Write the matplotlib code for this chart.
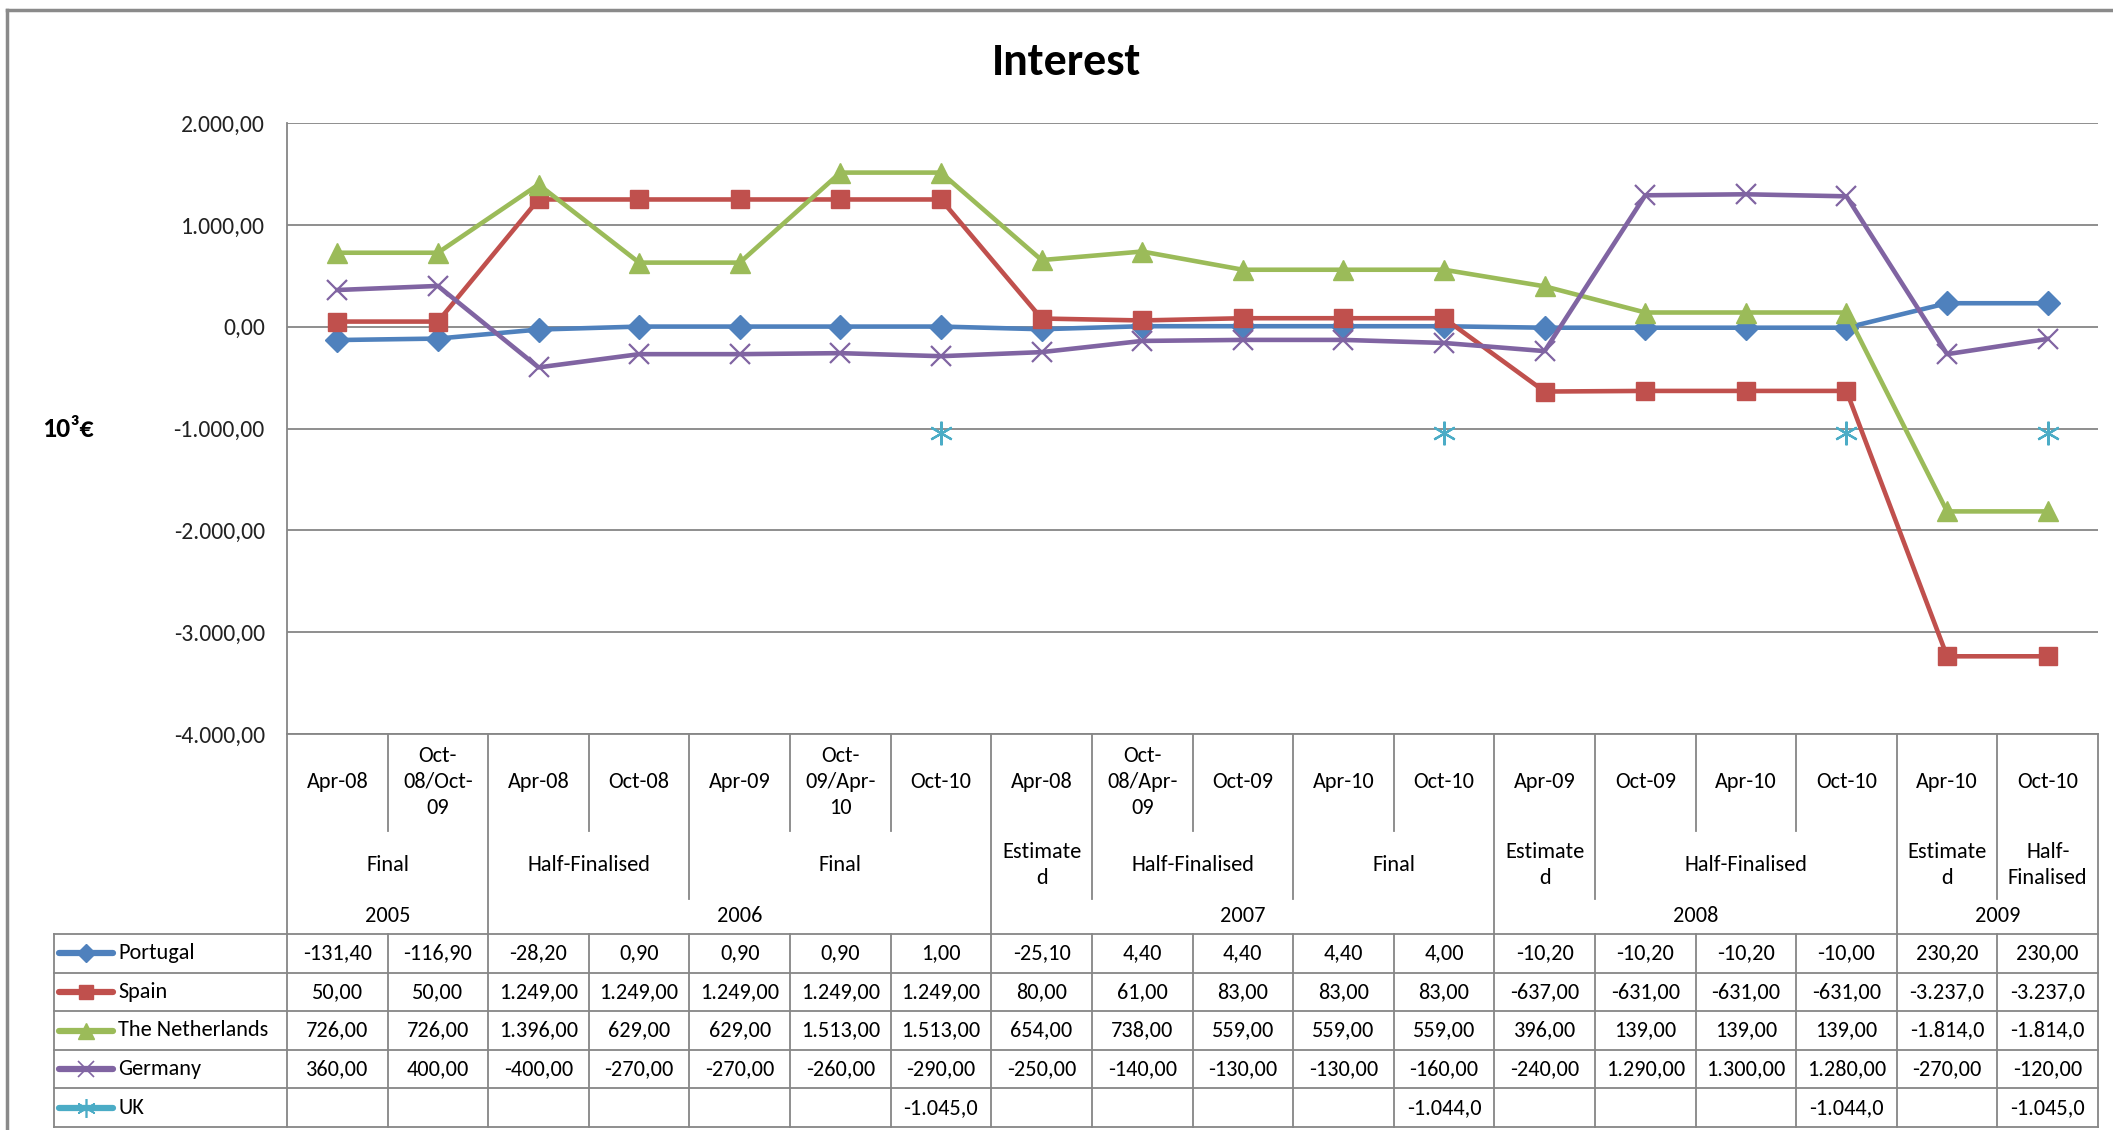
import numpy as np
import matplotlib
matplotlib.use("Agg")
import matplotlib.pyplot as plt
from matplotlib import font_manager
from matplotlib.lines import Line2D

# pick a Calibri-like font if one is there
names = {f.name for f in font_manager.fontManager.ttflist}
for fam in ["Carlito", "Liberation Sans Narrow", "Liberation Sans"]:
    if fam in names:
        break
plt.rcParams['font.family'] = [fam, 'DejaVu Sans']

# data
months = ["Apr-08", "Oct-\n08/Oct-\n09", "Apr-08", "Oct-08", "Apr-09", "Oct-\n09/Apr-\n10",
          "Oct-10", "Apr-08", "Oct-\n08/Apr-\n09", "Oct-09", "Apr-10", "Oct-10",
          "Apr-09", "Oct-09", "Apr-10", "Oct-10", "Apr-10", "Oct-10"]
status = ["Final", "Half-Finalised", "Final", "Estimate\nd", "Half-Finalised", "Final",
          "Estimate\nd", "Half-Finalised", "Estimate\nd", "Half-\nFinalised"]
status_span = [2, 2, 3, 1, 2, 2, 1, 3, 1, 1]
years = ["2005", "2006", "2007", "2008", "2009"]
year_span = [2, 5, 5, 4, 2]

countries = ["Portugal", "Spain", "The Netherlands", "Germany", "UK"]
portugal = [-131.4, -116.9, -28.2, 0.9, 0.9, 0.9, 1.0, -25.1, 4.4, 4.4, 4.4, 4.0,
            -10.2, -10.2, -10.2, -10.0, 230.2, 230.0]
spain = [50, 50, 1249, 1249, 1249, 1249, 1249, 80, 61, 83, 83, 83,
         -637, -631, -631, -631, -3237, -3237]
netherlands = [726, 726, 1396, 629, 629, 1513, 1513, 654, 738, 559, 559, 559,
               396, 139, 139, 139, -1814, -1814]
germany = [360, 400, -400, -270, -270, -260, -290, -250, -140, -130, -130, -160,
           -240, 1290, 1300, 1280, -270, -120]
nan = np.nan
uk = [nan, nan, nan, nan, nan, nan, -1045, nan, nan, nan, nan, -1044,
      nan, nan, nan, -1044, nan, -1045]
series = [portugal, spain, netherlands, germany, uk]

colors = ["#4F81BD", "#C0504D", "#9BBB59", "#8064A2", "#4BACC6"]
markers = ["D", "s", "^", "x", (6, 2, 0)]
msizes = [12, 13, 15, 14, 17]

W, H = 2113, 1130
fig = plt.figure(figsize=(W / 100, H / 100), dpi=100)


def box(x0, y0, x1, y1):
    # pixel box (top-left origin) -> figure fraction
    return [x0 / W, 1 - y1 / H, (x1 - x0) / W, (y1 - y0) / H]


grey = "#868686"
x0, x1 = 287, 2098
ax = fig.add_axes(box(x0, 123, x1, 734))
n = len(months)
xs = np.arange(n)

for vals, c, m, ms, lab in zip(series, colors, markers, msizes, countries):
    lw = 3.3 if lab != "UK" else 0
    mew = 1.6 if m in ("x",) or isinstance(m, tuple) else 1
    ax.plot(xs, vals, color=c, lw=lw, marker=m, markersize=ms,
            markeredgewidth=mew, markeredgecolor=c, label=lab, zorder=3)

ax.set_xlim(-0.5, n - 0.5)
ax.set_ylim(-4000, 2000)
ax.set_yticks(np.arange(-4000, 2001, 1000))


def euro(v):
    s = f"{v:,.2f}"
    return s.replace(",", "X").replace(".", ",").replace("X", ".")


ax.set_yticklabels([euro(v) for v in np.arange(-4000, 2001, 1000)])
ax.tick_params(axis='y', length=0, pad=16, labelsize=17, colors="#222222")
ax.set_xticks([])
ax.grid(axis='y', color=grey, lw=1.3)
for s in ["top", "right", "bottom"]:
    ax.spines[s].set_visible(False)
ax.spines["left"].set_color(grey)
ax.spines["left"].set_linewidth(1.3)

fig.text(68 / W, 1 - 429 / H, "10³€", ha="center", va="center",
         fontsize=20, fontweight="bold")
fig.text(1067 / W, 1 - 62 / H, "Interest", ha="center", va="center",
         fontsize=33, fontweight="bold")

# header + data table underneath
tab = fig.add_axes(box(x0, 734, x1, 1127))
tab.set_xlim(-0.5, n - 0.5)
tab.set_ylim(393, 0)
tab.axis("off")
left = -0.5 - (x0 - 54) / ((x1 - x0) / n)
lk = dict(color=grey, lw=1.3, clip_on=False)

row_month, row_status, row_year = 97, 165, 200
rh = (393 - row_year) / 5

tab.plot([-0.5, n - 0.5], [0, 0], **lk)
for i, lab in enumerate(months):
    tab.text(i, 48, lab, ha="center", va="center", fontsize=16, linespacing=1.35)

# separators: month-level, status-level and year-level
stat_edges = np.cumsum(status_span)
year_edges = np.cumsum(year_span)
for e in range(1, n):
    if e in year_edges:
        bottom = row_year
    elif e in stat_edges:
        bottom = row_status
    else:
        bottom = row_month
    tab.plot([e - 0.5, e - 0.5], [0, bottom], **lk)

start = 0
for lab, sp in zip(status, status_span):
    tab.text(start + (sp - 1) / 2, 131, lab, ha="center", va="center",
             fontsize=16, linespacing=1.35)
    start += sp
start = 0
for lab, sp in zip(years, year_span):
    tab.text(start + (sp - 1) / 2, 182, lab, ha="center", va="center", fontsize=16)
    start += sp

# outer lines of header and table
tab.plot([-0.5, -0.5], [0, 393], **lk)
tab.plot([n - 0.5, n - 0.5], [0, 393], **lk)
tab.plot([left, left], [row_year, 393], **lk)
for k in range(6):
    y = row_year + k * rh
    tab.plot([left, n - 0.5], [y, y], **lk)
for e in range(1, n):
    tab.plot([e - 0.5, e - 0.5], [row_year, 393], **lk)

unit = (x1 - x0) / n
for k, (vals, c, m, ms, lab) in enumerate(zip(series, colors, markers, msizes, countries)):
    yc = row_year + (k + 0.5) * rh
    xa = left + (59 - 54) / unit
    xb = left + (113 - 54) / unit
    mew = 1.2 if m == "x" or isinstance(m, tuple) else 1
    tab.add_line(Line2D([xa, xb], [yc, yc], color=c, lw=4.5, clip_on=False,
                        solid_capstyle="round"))
    tab.add_line(Line2D([(xa + xb) / 2], [yc], color=c, marker=m, markersize=ms * 0.8,
                        markeredgewidth=mew, markeredgecolor=c, lw=0, clip_on=False))
    tab.text(left + (118 - 54) / unit, yc, lab, ha="left", va="center", fontsize=16)
    for i, v in enumerate(vals):
        if np.isnan(v):
            continue
        tab.text(i, yc, euro(v)[:8], ha="center", va="center", fontsize=16)

# chart border
fig.add_artist(Line2D([7 / W, 7 / W], [0, 1 - 10 / H], color="#8a8a8a", lw=2.5))
fig.add_artist(Line2D([7 / W, 1], [1 - 10 / H, 1 - 10 / H], color="#8a8a8a", lw=2.5))

fig.savefig("out.png", dpi=100)
